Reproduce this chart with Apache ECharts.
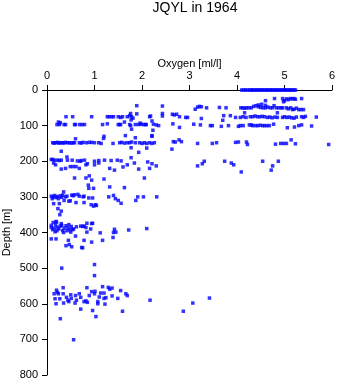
<!DOCTYPE html>
<html>
<head>
<meta charset="utf-8">
<script src="https://cdn.jsdelivr.net/npm/echarts@6/dist/echarts.min.js"></script>
<style>html,body{margin:0;padding:0;background:#fff}#c{width:338px;height:384px}</style>
</head>
<body>
<div id="c"></div>
<script>
// Tick values
const oxygenTicks = [0, 1, 2, 3, 4, 5, 6];
const depthTicks = [0, 100, 200, 300, 400, 500, 600, 700, 800];

// Observations as [oxygen ml/l, depth m], grouped by depth band
const surfaceBand = [
  [4.10,0],[4.14,0],[4.18,0],[4.22,0],[4.27,0],[4.30,0],[4.33,0],[4.36,0],[4.40,0],[4.43,0],[4.46,0],[4.50,0],
  [4.53,0],[4.56,0],[4.60,0],[4.63,0],[4.66,0],[4.70,0],[4.73,0],[4.76,0],[4.80,0],[4.83,0],[4.86,0],[4.90,0],
  [4.93,0],[4.96,0],[5.00,0],[5.03,0],[5.06,0],[5.10,0],[5.13,0],[5.16,0],[5.20,0],[5.23,0],
  [4.60,30],[4.79,24],[4.96,24],[5.00,30],[5.04,25],[5.08,27],[5.12,24],[5.16,25],[5.20,24],[5.23,26],[5.36,24],[4.98,33],
  [1.89,44],[2.43,45],[3.12,54],[3.17,48],[3.21,46],[3.25,47],[3.36,50],[3.63,49],[3.77,50],[4.08,50],[4.12,50],
  [4.16,51],[4.20,50],[4.25,50],[4.30,50],[4.35,46],[4.40,44],[4.45,47],[4.50,49],[4.55,50],[4.60,50],[4.65,48],
  [4.70,50],[4.75,50],[4.83,50],[4.88,50],[4.93,50],[4.96,50],[5.04,50],[5.08,53],[5.13,50],[5.17,55],[5.20,54],
  [5.25,51],[5.30,55],[5.35,55],[5.40,55],[4.78,44],[4.45,42],[4.52,40],[4.60,43]
];
const band75to130 = [
  [0.40,75],[0.54,75],[0.94,75],[1.27,75],[1.31,75],[1.36,75],[1.40,75],[1.50,75],[1.55,77],[1.59,75],[1.69,75],
  [1.74,72],[1.76,66],[1.78,75],[1.77,84],[1.89,67],[2.16,75],[2.43,66],[2.43,73],[2.18,73],[2.64,68],[2.68,70],
  [2.73,68],[2.79,75],[2.92,77],[2.96,77],[3.25,80],[3.70,85],[3.72,72],[3.86,72],[3.97,77],[4.07,77],[4.13,75],
  [4.19,77],[4.16,64],[4.28,75],[4.33,75],[4.38,73],[4.43,75],[4.48,75],[4.53,74],[4.58,75],[4.64,77],[4.69,76],
  [4.74,78],[4.80,76],[4.85,77],[4.85,64],[4.96,77],[5.00,75],[5.05,77],[5.10,76],[5.15,78],[5.20,79],[5.25,76],
  [5.36,75],[5.40,77],[5.44,74],[5.67,76],[4.77,96],
  [0.21,97],[0.26,97],[0.24,90],[0.28,92],[0.36,97],[0.39,97],[0.58,97],[0.60,97],[0.69,97],[0.74,97],[0.79,97],
  [1.17,97],[1.27,95],[1.50,97],[1.53,97],[1.55,97],[1.63,90],[1.74,97],[1.76,100],[1.78,110],[1.81,79],[1.86,97],
  [1.93,97],[1.96,93],[1.98,96],[2.03,97],[2.07,97],[2.09,97],[2.21,87],[2.24,96],[2.30,98],[2.35,100],[2.65,95],
  [2.79,105],[3.09,96],[3.23,98],[3.44,100],[3.48,100],[3.67,102],[3.82,100],[4.03,102],[4.07,100],[4.13,100],
  [4.26,98],[4.30,98],[4.33,100],[4.39,100],[4.44,100],[4.49,99],[4.54,100],[4.58,100],[4.63,100],[4.68,100],
  [5.06,106],[5.21,104],[5.30,100],[5.36,98],[5.57,101],[2.23,113],[2.21,128],
  [1.20,130],[1.65,128],[1.86,134],[2.21,130],[0.60,137],[1.19,136]
];
const band150 = [
  [0.12,148],[0.15,149],[0.18,148],[0.22,147],[0.25,149],[0.28,148],[0.32,148],[0.35,149],[0.39,147],[0.43,148],
  [0.47,148],[0.51,149],[0.55,148],[0.58,148],[0.68,148],[0.72,149],[0.76,147],[0.83,148],[0.89,147],[0.94,147],
  [1.00,148],[1.09,148],[1.14,150],[1.39,150],[1.53,148],[1.57,147],[1.63,149],[1.69,148],[1.74,148],[1.78,146],
  [1.86,148],[1.95,148],[2.00,150],[2.05,148],[2.10,150],[2.16,148],[2.21,150],[2.26,148],[2.66,145],[2.70,146],
  [2.78,140],[2.83,145],[3.17,150],[3.48,150],[3.57,148],[3.97,147],[4.03,146],[4.20,146],[4.22,153],[4.81,152],
  [4.92,150],[4.98,150],[5.04,150],[5.14,140],[5.23,151],[5.93,153],
  [2.10,163],[2.63,166],[1.77,162],[1.93,175],[0.30,172],[0.42,188],[1.77,190]
];
const band200 = [
  [0.09,195],[0.12,195],[0.14,205],[0.16,197],[0.18,210],[0.22,197],[0.26,198],[0.30,197],[0.30,222],[0.39,220],
  [0.43,197],[0.49,215],[0.53,197],[0.55,215],[0.61,215],[0.64,199],[0.68,220],[0.70,200],[0.72,198],[0.79,197],
  [0.82,210],[0.85,207],[1.00,200],[1.00,210],[1.09,198],[1.09,205],[1.21,197],[1.32,220],[1.35,198],[1.42,225],
  [1.48,197],[1.56,199],[1.60,216],[1.69,210],[1.84,205],[1.93,222],[2.12,202],[2.16,220],[2.21,207],[2.30,213],
  [3.17,213],[3.27,207],[3.31,200],[3.74,200],[3.88,205],[3.93,210],[4.09,230],[4.54,200],[4.72,225],[4.75,213],
  [4.87,200],
  [0.58,247],[0.82,247],[0.89,241],[0.94,253],[1.20,250],[2.05,247],[0.87,267],[0.88,276],[0.98,276],[1.32,272],
  [1.63,274]
];
const band300 = [
  [0.09,298],[0.11,305],[0.13,300],[0.14,319],[0.16,296],[0.19,302],[0.22,299],[0.24,305],[0.26,319],[0.28,297],
  [0.31,301],[0.33,295],[0.35,286],[0.36,310],[0.39,300],[0.42,298],[0.46,312],[0.49,311],[0.52,295],[0.55,297],
  [0.58,294],[0.61,316],[0.65,293],[0.68,298],[0.76,300],[0.78,298],[0.78,316],[0.88,303],[0.93,322],[0.96,303],
  [0.98,326],[1.02,322],[1.04,324],[1.30,300],[1.40,296],[1.44,305],[1.50,310],[1.56,318],[1.87,310],[1.91,300],
  [2.03,300],[2.31,300],[0.23,333],[0.30,340],[0.27,350]
];
const band400 = [
  [0.09,380],[0.09,386],[0.12,392],[0.13,372],[0.15,388],[0.17,398],[0.18,379],[0.19,369],[0.20,371],[0.21,395],
  [0.22,385],[0.25,390],[0.28,382],[0.30,375],[0.31,380],[0.33,395],[0.35,400],[0.36,388],[0.40,381],[0.42,395],
  [0.44,387],[0.46,378],[0.48,392],[0.50,399],[0.51,383],[0.54,392],[0.56,390],[0.60,410],[0.09,418],[0.19,418],
  [0.45,422],[0.40,437],[0.47,434],[0.52,440],[0.62,384],[0.73,442],[0.75,443],[0.71,382],[0.75,383],[0.78,382],
  [0.78,422],[0.82,386],[0.84,374],[0.84,399],[0.92,390],[0.94,375],[0.96,374],[0.94,427],[1.12,401],[1.17,422],
  [1.39,414],[1.40,400],[1.42,391],[1.45,399],[1.72,393],[2.10,389]
];
const deepBand = [
  [1.00,490],[0.31,500],[1.00,521],
  [0.15,572],[0.17,586],[0.19,600],[0.20,562],[0.22,568],[0.24,572],[0.27,586],[0.34,555],[0.34,572],[0.35,598],
  [0.41,582],[0.44,590],[0.46,594],[0.50,575],[0.51,585],[0.60,577],[0.59,598],[0.62,590],[0.68,572],[0.71,582],
  [0.71,615],[0.78,594],[0.82,592],[0.85,596],[0.84,555],[0.89,577],[0.94,566],[0.96,619],[1.00,572],[1.01,565],
  [1.03,636],[1.07,594],[1.07,600],[1.10,581],[1.13,570],[1.17,552],[1.20,570],[1.20,585],[1.22,601],[1.24,583],
  [1.29,554],[1.32,559],[1.37,556],[1.37,578],[1.49,585],[1.55,563],[1.59,621],[1.66,572],[1.69,577],[2.17,590],
  [2.87,621],[3.07,598],[3.42,584],[0.28,642],[0.56,701]
];

const allPoints = [].concat(surfaceBand, band75to130, band150, band200, band300, band400, deepBand);
const FONT = 'Liberation Sans, Arial, sans-serif';

const chart = echarts.init(document.getElementById('c'), null, {renderer: 'canvas'});
chart.setOption({
  animation: false,
  backgroundColor: '#fff',
  title: {
    text: 'JQYL in 1964',
    left: 190, top: -4, textAlign: 'center',
    textStyle: {fontFamily: FONT, fontSize: 14, fontWeight: 'normal', color: '#000'}
  },
  grid: {left: 47, right: 6, top: 90, bottom: 9, containLabel: false, outerBoundsMode: 'none'},
  xAxis: {
    type: 'value', position: 'top',
    min: oxygenTicks[0], max: oxygenTicks[oxygenTicks.length - 1], interval: 1,
    name: 'Oxygen [ml/l]', nameLocation: 'middle', nameGap: 21, nameMoveOverlap: false,
    nameTextStyle: {fontFamily: FONT, fontSize: 11, color: '#000'},
    axisLine: {show: true, onZero: false, lineStyle: {color: '#000', width: 1}},
    axisTick: {show: true, inside: false, length: 5, lineStyle: {color: '#000'}},
    axisLabel: {fontFamily: FONT, fontSize: 11, color: '#000', margin: 9},
    splitLine: {show: false}
  },
  yAxis: {
    type: 'value', inverse: true,
    min: depthTicks[0], max: depthTicks[depthTicks.length - 1], interval: 100,
    name: 'Depth [m]', nameLocation: 'middle', nameGap: 35, nameRotate: 90, nameMoveOverlap: false,
    nameTextStyle: {fontFamily: FONT, fontSize: 11, color: '#000'},
    axisLine: {show: true, onZero: false, lineStyle: {color: '#000', width: 1}},
    axisTick: {show: true, inside: false, length: 5, lineStyle: {color: '#000'}},
    axisLabel: {fontFamily: FONT, fontSize: 11, color: '#000', margin: 9},
    splitLine: {show: false}
  },
  series: [{
    type: 'scatter',
    data: allPoints,
    symbol: 'rect',
    symbolSize: 3.5,
    itemStyle: {color: '#0000ff'},
    clip: false
  }]
});
</script>
</body>
</html>
